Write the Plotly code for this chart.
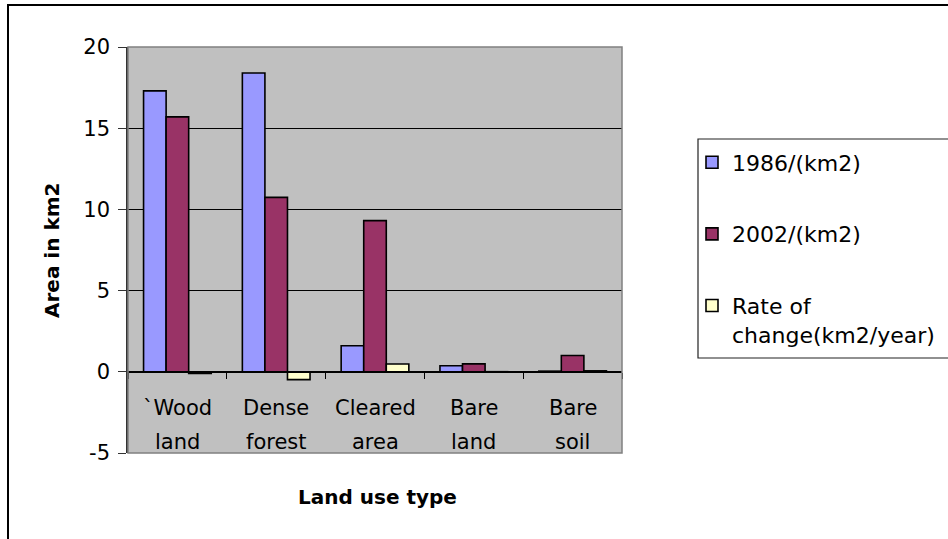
import plotly.graph_objects as go

# Land use areas (km2) and yearly rate of change
categories = ["`Wood land", "Dense forest", "Cleared area", "Bare land", "Bare soil"]
area_1986 = [17.3, 18.4, 1.6, 0.37, 0.04]
area_2002 = [15.7, 10.74, 9.31, 0.49, 1.0]
rate_change = [-0.1, -0.48, 0.48, 0.0075, 0.06]
series_names = ["1986/(km2)", "2002/(km2)", "Rate of<br>change(km2/year)"]
y_ticks = [-5, 0, 5, 10, 15, 20]

W, H = 948, 539
PL, PR, PT, PB = 128, 622, 47, 453  # plot area in pixels
FONT = "DejaVu Sans"
FS = 21


def fx(px):
    return (px - PL) / (PR - PL)


def fy(py):
    return (PB - py) / (PB - PT)


fig = go.Figure()
colors = ["#9999FF", "#993366", "#FFFFCC"]
for i, (name, vals) in enumerate(zip(series_names, [area_1986, area_2002, rate_change])):
    fig.add_trace(go.Bar(
        x=categories, y=vals, name=name, legendgroup=f"g{i}",
        marker=dict(color=colors[i], line=dict(color="black", width=1.6)),
    ))

# category labels drawn just under the zero axis, two lines each
annotations = []
for cat in categories:
    first, second = cat.split(" ", 1)
    annotations.append(dict(x=cat, xref="x", y=fy(408), yref="paper", text=first,
                            showarrow=False, font=dict(family=FONT, size=FS, color="black"),
                            xanchor="center", yanchor="middle"))
    annotations.append(dict(x=cat, xref="x", y=fy(442), yref="paper", text=second,
                            showarrow=False, font=dict(family=FONT, size=FS, color="black"),
                            xanchor="center", yanchor="middle"))

annotations.append(dict(x=fx(377), y=fy(497), xref="paper", yref="paper", text="<b>Land use type</b>",
                        showarrow=False, font=dict(family=FONT, size=20, color="black"),
                        xanchor="center", yanchor="middle"))
annotations.append(dict(x=fx(52), y=fy(251), xref="paper", yref="paper", text="<b>Area in km2</b>",
                        showarrow=False, textangle=-90, font=dict(family=FONT, size=20, color="black"),
                        xanchor="center", yanchor="middle"))

shapes = [
    # plot area frame
    dict(type="rect", xref="x domain", yref="y domain", x0=0, x1=1, y0=0, y1=1,
         line=dict(color="#808080", width=1.5), layer="above"),
    # legend frame
    dict(type="rect", xref="paper", yref="paper", x0=fx(698), x1=fx(990), y0=fy(139), y1=fy(358),
         line=dict(color="#222222", width=1.2), layer="above"),
    # chart frame
    dict(type="rect", xref="paper", yref="paper", x0=fx(8), x1=fx(1000), y0=fy(600), y1=fy(5),
         line=dict(color="black", width=2), layer="above"),
]

fig.update_layout(
    width=W, height=H,
    margin=dict(l=PL, r=W - PR, t=PT, b=H - PB, pad=0, autoexpand=False),
    paper_bgcolor="white", plot_bgcolor="#C0C0C0",
    barmode="group", bargap=0.315, bargroupgap=0,
    font=dict(family=FONT, size=FS, color="black"),
    showlegend=True,
    legend=dict(x=fx(692), y=fy(141.5), xanchor="left", yanchor="top",
                xref="paper", yref="paper",
                font=dict(family=FONT, size=22, color="black"),
                bgcolor="rgba(0,0,0,0)", borderwidth=0,
                tracegroupgap=40, valign="top", traceorder="grouped"),
    annotations=annotations,
    shapes=shapes,
)

fig.update_xaxes(
    type="category", range=[-0.5, 4.5], anchor="free", position=0.2,
    showline=True, linecolor="black", linewidth=1.5,
    ticks="outside", tickson="boundaries", ticklen=6, tickcolor="black",
    showticklabels=False, showgrid=False, zeroline=False,
)
fig.update_yaxes(
    range=[-5, 20], tickvals=y_ticks, ticktext=[str(v) for v in y_ticks],
    showgrid=True, gridcolor="black", gridwidth=1,
    zeroline=True, zerolinecolor="black", zerolinewidth=1.5,
    showline=True, linecolor="#333333", linewidth=1.5,
    ticks="outside", ticklen=8, tickcolor="#333333",
    tickfont=dict(family=FONT, size=FS, color="black"),
    ticklabelstandoff=4,
)

fig.write_html("out.html")
